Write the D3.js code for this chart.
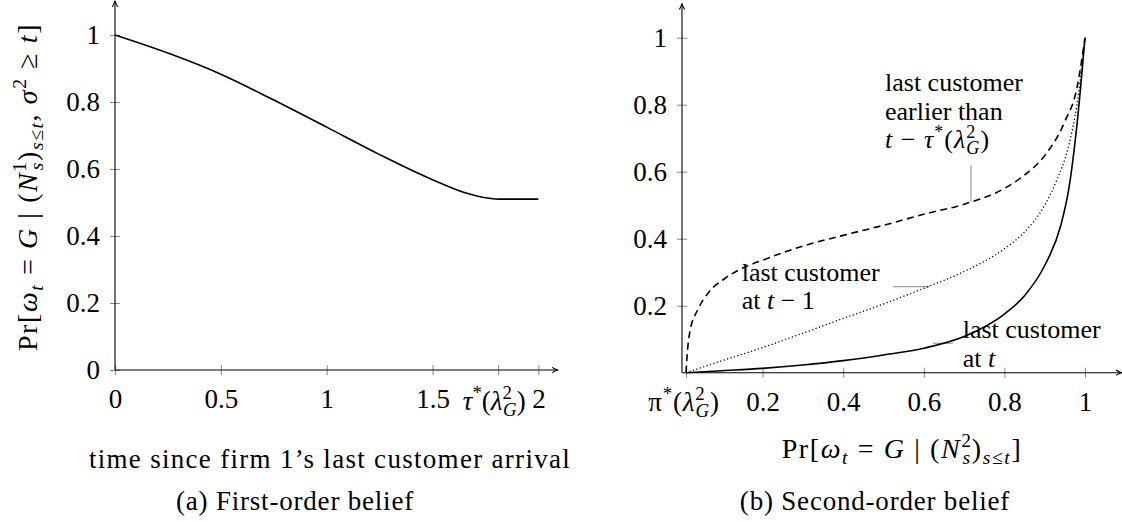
<!DOCTYPE html>
<html>
<head>
<meta charset="utf-8">
<script src="https://cdn.jsdelivr.net/npm/d3@7"></script>
<style>
  body { margin: 0; background: #fff; }
  svg text { font-family: "Liberation Serif", "Times New Roman", serif; fill: #000; }
</style>
</head>
<body>
<div id="chart"></div>
<script>
const width = 1122;
const height = 522;

// (a) first-order belief
const timeVals = [0, 0.25, 0.5, 0.75, 1, 1.25, 1.5, 1.65, 1.75, 1.81, 2];
const firstBelief = [1, 0.946, 0.883, 0.806, 0.725, 0.643, 0.568, 0.53, 0.514, 0.51, 0.51];
const tauStar = 1.81;
const leftXTicks = [0, 0.5, 1, 1.5, 2];
const leftYTicks = [0, 0.2, 0.4, 0.6, 0.8, 1];

// (b) second-order belief
const piStar = 0.01;
const solidP = [0.01, 0.1, 0.2, 0.3, 0.4, 0.5, 0.6, 0.7, 0.8, 0.85, 0.9, 0.94, 0.96, 0.98, 1.0];
const solidV = [0, 0.006, 0.013, 0.023, 0.036, 0.053, 0.073, 0.108, 0.175, 0.23, 0.32, 0.44, 0.55, 0.74, 1.0];
const dottedP = [0.01, 0.1, 0.2, 0.3, 0.4, 0.5, 0.6, 0.7, 0.8, 0.85, 0.9, 0.93, 0.96, 0.98, 1.0];
const dottedV = [0, 0.036, 0.075, 0.118, 0.162, 0.205, 0.252, 0.302, 0.37, 0.42, 0.5, 0.575, 0.68, 0.8, 1.0];
const dashedP = [0.01, 0.012, 0.02, 0.04, 0.065, 0.107, 0.15, 0.2, 0.3, 0.4, 0.5, 0.6, 0.7, 0.8, 0.85, 0.9, 0.95, 0.98, 1.0];
const dashedV = [0, 0.04, 0.125, 0.19, 0.238, 0.282, 0.312, 0.336, 0.378, 0.41, 0.44, 0.473, 0.503, 0.55, 0.59, 0.648, 0.75, 0.85, 1.0];
const rightXTicks = [0.2, 0.4, 0.6, 0.8, 1];
const rightYTicks = [0.2, 0.4, 0.6, 0.8, 1];

const FS = 26;
const TICK_FS = 27;

const svg = d3.select("#chart")
    .append("svg")
    .attr("width", width)
    .attr("height", height);

svg.append("defs").append("marker")
    .attr("id", "arrow")
    .attr("viewBox", "0 0 10 10")
    .attr("refX", 8).attr("refY", 5)
    .attr("markerWidth", 7).attr("markerHeight", 7)
    .attr("orient", "auto")
    .append("path")
    .attr("d", "M1,1.5 Q5,4 9,5 Q5,6 1,8.5")
    .attr("fill", "none")
    .attr("stroke", "#000")
    .attr("stroke-width", 1.3);

// writes math-ish text with tspans: {t, i: italic, pos: 'sup'|'sub', dx}
function mathText(sel, parts, fs) {
    let cur = 0;
    sel.attr("font-size", fs);
    parts.forEach(p => {
        let off = 0;
        let size = fs;
        if (p.pos === "sup") { off = -0.4 * fs; size = 0.7 * fs; }
        if (p.pos === "sub") { off = 0.22 * fs; size = 0.7 * fs; }
        const ts = sel.append("tspan")
            .attr("dy", off - cur)
            .attr("font-size", size)
            .text(p.t);
        if (p.i) ts.attr("font-style", "italic");
        if (p.dx) ts.attr("dx", p.dx);
        cur = off;
    });
}

function drawAxes(g, x, y, xMax, yMax) {
    g.append("line")
        .attr("x1", x.range()[0]).attr("x2", x(xMax))
        .attr("y1", y(0)).attr("y2", y(0))
        .attr("stroke", "#000").attr("stroke-width", 1.1)
        .attr("marker-end", "url(#arrow)");
    g.append("line")
        .attr("x1", x(0)).attr("x2", x(0))
        .attr("y1", y(0)).attr("y2", y(yMax))
        .attr("stroke", "#000").attr("stroke-width", 1.1)
        .attr("marker-end", "url(#arrow)");
}

function styleTicks(axisG) {
    axisG.select(".domain").remove();
    axisG.attr("font-family", null).attr("font-size", null);
    axisG.selectAll(".tick line").attr("stroke", "#888").attr("stroke-width", 1);
    axisG.selectAll(".tick text")
        .attr("font-size", TICK_FS)
        .attr("fill", "#000");
}

// ---------- (a) ----------
const xL = d3.scaleLinear().domain([0, 2]).range([115, 538.4]);
const yL = d3.scaleLinear().domain([0, 1]).range([370, 35]);
const gL = svg.append("g");

const xAxisL = gL.append("g")
    .attr("transform", `translate(0,${yL(0)})`)
    .call(d3.axisBottom(xL).tickValues(leftXTicks.concat([tauStar]))
        .tickFormat(d => d === tauStar ? "" : d3.format("")(d))
        .tickSize(5).tickPadding(14));
styleTicks(xAxisL);
xAxisL.selectAll(".tick line").attr("y1", -5);

const yAxisL = gL.append("g")
    .attr("transform", `translate(${xL(0)},0)`)
    .call(d3.axisLeft(yL).tickValues(leftYTicks).tickFormat(d3.format("")).tickSize(5).tickPadding(10));
styleTicks(yAxisL);
yAxisL.selectAll(".tick line").attr("x1", 5);

drawAxes(gL, xL, yL, 2.09, 1.1);

const tauLabel = gL.append("text")
    .attr("x", xL(tauStar) - 4).attr("y", 410)
    .attr("text-anchor", "middle");
mathText(tauLabel, [
    { t: "τ", i: true }, { t: "*", pos: "sup" }, { t: "(" }, { t: "λ", i: true },
    { t: "2", pos: "sup" }, { t: "G", i: true, pos: "sub", dx: -9 }, { t: ")" }
], TICK_FS);

const lineL = d3.line()
    .x((d, i) => xL(timeVals[i]))
    .y(d => yL(d))
    .curve(d3.curveMonotoneX);

gL.append("path")
    .datum(firstBelief)
    .attr("d", lineL)
    .attr("fill", "none")
    .attr("stroke", "#000")
    .attr("stroke-width", 1.6);

gL.append("text")
    .attr("x", 330).attr("y", 468)
    .attr("text-anchor", "middle")
    .attr("font-size", 27)
    .attr("letter-spacing", 1.3)
    .text("time since firm 1’s last customer arrival");

gL.append("text")
    .attr("x", 295).attr("y", 510)
    .attr("text-anchor", "middle")
    .attr("font-size", 27)
    .attr("letter-spacing", 0.8)
    .text("(a) First-order belief");

const yLabL = gL.append("text")
    .attr("transform", "translate(37,187) rotate(-90)")
    .attr("text-anchor", "middle")
    .attr("letter-spacing", 1.6);
mathText(yLabL, [
    { t: "Pr[" }, { t: "ω", i: true }, { t: "t", i: true, pos: "sub" }, { t: " = " },
    { t: "G", i: true }, { t: " | (" }, { t: "N", i: true }, { t: "1", pos: "sup" },
    { t: "s", i: true, pos: "sub", dx: -10 }, { t: ")" }, { t: "s≤t", i: true, pos: "sub" },
    { t: ", " }, { t: "σ", i: true }, { t: "2", pos: "sup" }, { t: " ≥ " }, { t: "t", i: true }, { t: "]" }
], 28);

// ---------- (b) ----------
const xR = d3.scaleLinear().domain([0, 1]).range([682, 1085]);
const yR = d3.scaleLinear().domain([0, 1]).range([372.7, 37.7]);
const gR = svg.append("g");

const xAxisR = gR.append("g")
    .attr("transform", `translate(0,${yR(0)})`)
    .call(d3.axisBottom(xR).tickValues([piStar].concat(rightXTicks))
        .tickFormat(d => d === piStar ? "" : d3.format("")(d))
        .tickSize(5).tickPadding(14));
styleTicks(xAxisR);
xAxisR.selectAll(".tick line").attr("y1", -5);

const yAxisR = gR.append("g")
    .attr("transform", `translate(${xR(0)},0)`)
    .call(d3.axisLeft(yR).tickValues(rightYTicks).tickFormat(d3.format("")).tickSize(5).tickPadding(10));
styleTicks(yAxisR);
yAxisR.selectAll(".tick line").attr("x1", 5);

const piLabel = gR.append("text")
    .attr("x", xR(piStar) - 2).attr("y", 411)
    .attr("text-anchor", "middle")
    .attr("letter-spacing", 0.8);
mathText(piLabel, [
    { t: "π" }, { t: "*", pos: "sup" }, { t: "(" }, { t: "λ", i: true },
    { t: "2", pos: "sup" }, { t: "G", i: true, pos: "sub", dx: -10 }, { t: ")" }
], TICK_FS);

// leader lines (drawn beneath curves)
const leaderColor = "#a0a0a0";
gR.append("line").attr("x1", xR(0.717)).attr("x2", xR(0.717))
    .attr("y1", 165).attr("y2", yR(0.51))
    .attr("stroke", leaderColor).attr("stroke-width", 1.2);
gR.append("line").attr("x1", 893).attr("x2", xR(0.615))
    .attr("y1", yR(0.257)).attr("y2", yR(0.257))
    .attr("stroke", leaderColor).attr("stroke-width", 1.2);
gR.append("line").attr("x1", 933).attr("x2", 953)
    .attr("y1", 343.3).attr("y2", 343.3)
    .attr("stroke", leaderColor).attr("stroke-width", 1.2);

drawAxes(gR, xR, yR, 1.09, 1.1);

function curveR(ps, vs, dash) {
    const line = d3.line()
        .x((d, i) => xR(ps[i]))
        .y(d => yR(d))
        .curve(d3.curveMonotoneX);
    const p = gR.append("path")
        .datum(vs)
        .attr("d", line)
        .attr("fill", "none")
        .attr("stroke", "#000")
        .attr("stroke-width", dash === "dot" ? 1.3 : 1.6);
    if (dash === "dash") p.attr("stroke-dasharray", "7,4.5");
    if (dash === "dot") p.attr("stroke-dasharray", "1.2,2.4");
}
curveR(dashedP, dashedV, "dash");
curveR(dottedP, dottedV, "dot");
curveR(solidP, solidV, null);

// annotations
const a1 = gR.append("text").attr("font-size", FS);
a1.append("tspan").attr("x", 885).attr("y", 91).text("last customer");
a1.append("tspan").attr("x", 885).attr("y", 119.5).text("earlier than");
const a1c = gR.append("text").attr("x", 885).attr("y", 148).attr("letter-spacing", 1);
mathText(a1c, [
    { t: "t", i: true }, { t: " − " }, { t: "τ", i: true }, { t: "*", pos: "sup" }, { t: "(" },
    { t: "λ", i: true }, { t: "2", pos: "sup" }, { t: "G", i: true, pos: "sub", dx: -10 }, { t: ")" }
], FS);

const a2 = gR.append("text").attr("font-size", FS);
a2.append("tspan").attr("x", 741.7).attr("y", 281).text("last customer");
const a2b = gR.append("text").attr("x", 741.7).attr("y", 308.5);
mathText(a2b, [{ t: "at " }, { t: "t", i: true }, { t: " − 1" }], FS);

const a3 = gR.append("text").attr("font-size", FS);
a3.append("tspan").attr("x", 962.7).attr("y", 338).text("last customer");
const a3b = gR.append("text").attr("x", 962.7).attr("y", 366.7);
mathText(a3b, [{ t: "at " }, { t: "t", i: true }], FS);

const xLabR = gR.append("text")
    .attr("x", 902).attr("y", 458)
    .attr("text-anchor", "middle")
    .attr("letter-spacing", 1.6);
mathText(xLabR, [
    { t: "Pr[" }, { t: "ω", i: true }, { t: "t", i: true, pos: "sub" }, { t: " = " },
    { t: "G", i: true }, { t: " | (" }, { t: "N", i: true }, { t: "2", pos: "sup" },
    { t: "s", i: true, pos: "sub", dx: -10 }, { t: ")" }, { t: "s≤t", i: true, pos: "sub" }, { t: "]" }
], 28);

gR.append("text")
    .attr("x", 875).attr("y", 510)
    .attr("text-anchor", "middle")
    .attr("font-size", 27)
    .attr("letter-spacing", 0.8)
    .text("(b) Second-order belief");
</script>
</body>
</html>
